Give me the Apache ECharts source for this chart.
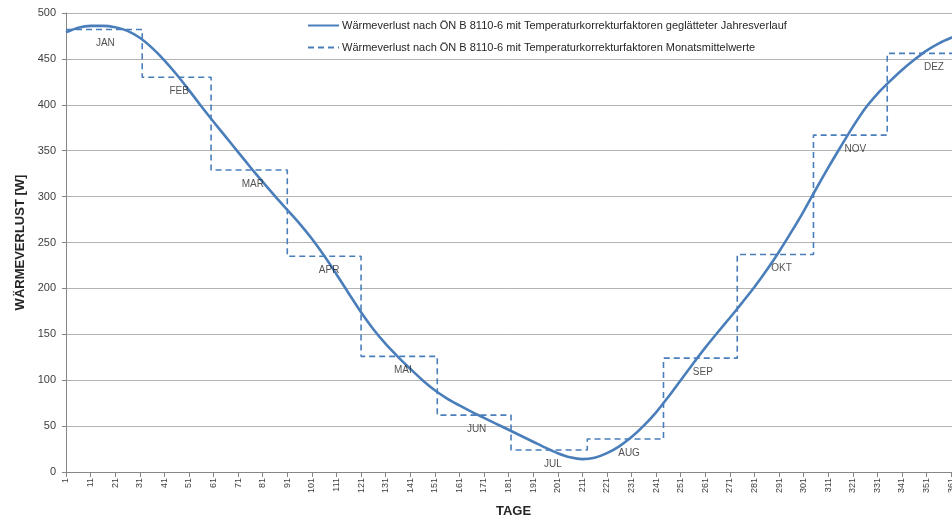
<!DOCTYPE html>
<html>
<head>
<meta charset="utf-8">
<script src="https://cdn.jsdelivr.net/npm/echarts@6/dist/echarts.min.js"></script>
<style>
html,body{margin:0;padding:0;background:#fff;}
#chart{width:952px;height:520px;}
</style>
</head>
<body>
<div id="chart"></div>
<script>
// Days of the year (category axis)
const dayCount = 365;
const days = [];
for (let d = 1; d <= dayCount; d++) days.push(String(d));

// Smoothed annual curve: key points [day, W]
const curveDays = [1, 6, 11, 16, 21, 26, 31, 36, 41, 46, 51, 56, 61, 66, 71, 76, 81, 86, 91, 96,
  101, 106, 111, 116, 121, 126, 131, 136, 141, 146, 151, 156, 161, 166, 171, 176, 181, 186, 191, 196,
  201, 206, 211, 216, 221, 226, 231, 236, 241, 246, 251, 256, 261, 266, 271, 276, 281, 286, 291, 296,
  301, 306, 311, 316, 321, 326, 331, 336, 341, 346, 351, 356, 361, 365];
const curveValues = [479, 484, 486, 486, 484.5, 480.5, 473, 462, 448.5, 433, 416, 398.5, 381.5, 365, 348.5, 332, 316, 300.5, 285.5, 270.5,
  254, 235.5, 215.5, 194.5, 174, 155.5, 139.5, 125.5, 112.5, 100, 89, 80, 72.5, 65.5, 59, 52.5, 46, 39.5, 33, 26.5,
  20.5, 16, 14, 15.5, 20.5, 28, 38, 50.5, 65, 82, 100, 118, 135.5, 152, 168, 184.5, 201.5, 220, 240, 261.5,
  284, 308, 331.5, 354, 376, 396, 412, 425.5, 438, 449, 459, 467, 473, 477];

// Monthly mean values (step line)
const monthNames  = ['JAN', 'FEB', 'MAR', 'APR', 'MAI', 'JUN', 'JUL', 'AUG', 'SEP', 'OKT', 'NOV', 'DEZ'];
const monthStart  = [1, 32, 60, 91, 121, 152, 182, 213, 244, 274, 305, 335];
const monthValues = [482, 430, 329, 235, 126, 62, 24, 36, 124, 237, 367, 456];
const monthLabelDay = [17, 47, 77, 108, 138, 168, 199, 230, 260, 292, 322, 354];

const seriesSmooth = 'Wärmeverlust nach ÖN B 8110-6 mit Temperaturkorrekturfaktoren geglätteter Jahresverlauf';
const seriesMonth  = 'Wärmeverlust nach ÖN B 8110-6 mit Temperaturkorrekturfaktoren Monatsmittelwerte';

const smoothData = curveDays.map((d, i) => [String(d), curveValues[i]]);
const stepData = monthStart.map((d, i) => [String(d), monthValues[i]]);
stepData.push([String(dayCount), monthValues[monthValues.length - 1]]);
const labelData = monthLabelDay.map((d, i) => ({ value: [String(d), monthValues[i]], name: monthNames[i] }));

const blue = '#4a7ebb';
const font = '"Liberation Sans", Arial, sans-serif';

const chart = echarts.init(document.getElementById('chart'), null, { renderer: 'canvas' });
chart.setOption({
  backgroundColor: '#ffffff',
  animation: false,
  textStyle: { fontFamily: font },
  grid: { left: 66, top: 13, width: 895, height: 459, containLabel: false, outerBoundsMode: 'none' },
  legend: {
    orient: 'vertical',
    left: 307,
    top: 20,
    padding: 0,
    itemWidth: 31,
    itemHeight: 10,
    itemGap: 11,
    itemStyle: { opacity: 0 },
    textStyle: { fontFamily: font, fontSize: 11, color: '#262626', padding: [0, 0, 0, -2] },
    data: [seriesSmooth, seriesMonth]
  },
  xAxis: {
    type: 'category',
    data: days,
    boundaryGap: false,
    name: 'TAGE',
    nameLocation: 'middle',
    nameGap: 33,
    nameTextStyle: { fontFamily: font, fontSize: 13, fontWeight: 'bold', color: '#262626' },
    axisLine: { lineStyle: { color: '#868686', width: 1 } },
    axisTick: { show: true, interval: 9, length: 5, lineStyle: { color: '#868686' } },
    axisLabel: { interval: 9, rotate: 90, fontSize: 9, color: '#404040', margin: 6, fontFamily: font },
    splitLine: { show: false }
  },
  yAxis: {
    type: 'value',
    min: 0,
    max: 500,
    interval: 50,
    name: 'WÄRMEVERLUST [W]',
    nameLocation: 'middle',
    nameGap: 35,
    nameRotate: 90,
    nameTextStyle: { fontFamily: font, fontSize: 13, fontWeight: 'bold', color: '#262626' },
    axisLine: { show: true, lineStyle: { color: '#868686', width: 1 } },
    axisTick: { show: true, length: 4, lineStyle: { color: '#868686' } },
    axisLabel: { fontSize: 11, color: '#404040', margin: 10, fontFamily: font },
    splitLine: { show: true, lineStyle: { color: '#b3b3b3', width: 1 } }
  },
  series: [
    {
      name: seriesSmooth,
      type: 'line',
      data: smoothData,
      smooth: 0.3,
      symbol: 'none',
      lineStyle: { color: blue, width: 2.6 },
      itemStyle: { color: blue },
      z: 3
    },
    {
      name: seriesMonth,
      type: 'line',
      data: stepData,
      step: 'end',
      symbol: 'none',
      lineStyle: { color: blue, width: 1.6, type: [6, 4] },
      itemStyle: { color: blue },
      z: 2
    },
    {
      name: 'labels',
      type: 'scatter',
      data: labelData,
      symbolSize: 0,
      silent: true,
      label: {
        show: true,
        position: 'bottom',
        distance: 9,
        formatter: p => p.name,
        fontSize: 10,
        color: '#262626',
        fontFamily: font
      },
      z: 4
    }
  ]
});
</script>
</body>
</html>
